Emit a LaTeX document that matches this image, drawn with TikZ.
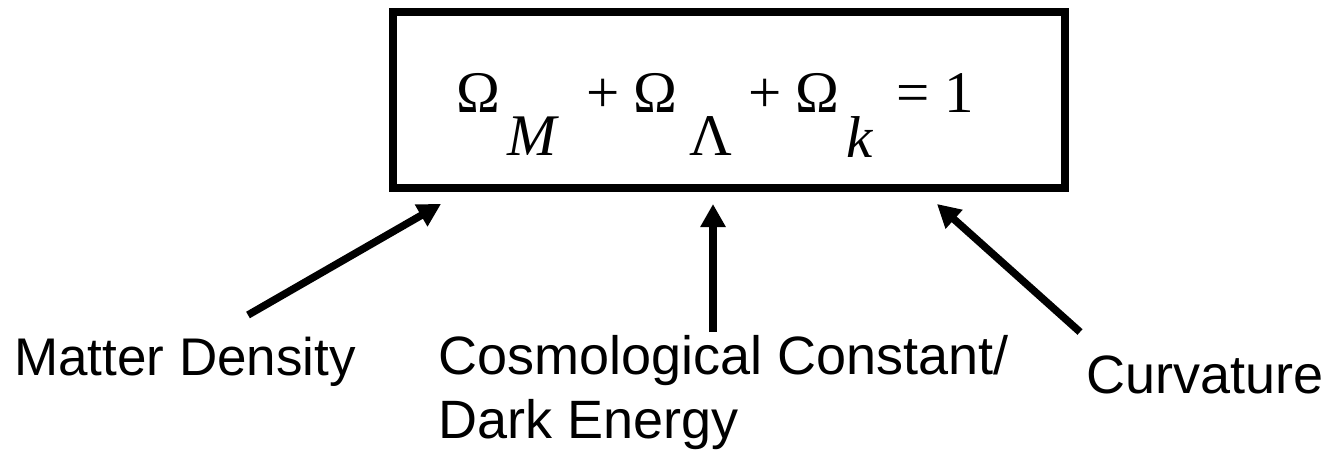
\documentclass[tikz,border=0pt]{standalone}
\usepackage{fontspec}
\setmainfont{Liberation Sans}
\newfontfamily\eqfont{Liberation Serif}
\usetikzlibrary{arrows.meta}
\begin{document}
\begin{tikzpicture}[x=1pt,y=-1pt,
  glyph/.style={anchor=base west,inner sep=0pt,font=\eqfont\fontsize{59}{60}\selectfont},
  lbl/.style={anchor=base west,inner sep=0pt,font=\fontsize{54}{58}\selectfont},
  ptr/.style={line width=7.5pt,-{Triangle[length=23pt,width=24pt]}}]
\useasboundingbox (0,0) rectangle (1321,450);
% box
\draw[line width=8pt] (393,12) rectangle (1065,188);
% equation
\node[glyph] (o1) at (456,112) {Ω};
\node[glyph] (sm) at (507,155) {\itshape M};
\node[glyph] (p1) at (586,112) {+};
\node[glyph] (o2) at (633,112) {Ω};
\node[glyph] (sl) at (689,155) {Λ};
\node[glyph] (p2) at (748,112) {+};
\node[glyph] (o3) at (795,112) {Ω};
\node[glyph] (sk) at (846,157) {\itshape k};
\node[glyph] (eq) at (896,112) {=};
\node[glyph] (one) at (944,112) {1};
% labels
\node[lbl,font=\fontsize{53}{58}\selectfont] (matter) at (14,375) {Matter Density};
\node[lbl] (cosmo1) at (438,374) {Cosmological Constant/};
\node[lbl] (cosmo2) at (438,438) {Dark Energy};
\node[lbl] (curv) at (1086,393) {Curvature};
% arrow ends
\coordinate (a1s) at (248,315);
\coordinate (a1e) at (441,204);
\coordinate (a2s) at (713,332);
\coordinate (a2e) at (713,204);
\coordinate (a3s) at (1080,332);
\coordinate (a3e) at (937,204);
\draw[ptr] (a1s) -- (a1e);
\draw[ptr] (a2s) -- (a2e);
\draw[ptr] (a3s) -- (a3e);
\end{tikzpicture}
\end{document}
